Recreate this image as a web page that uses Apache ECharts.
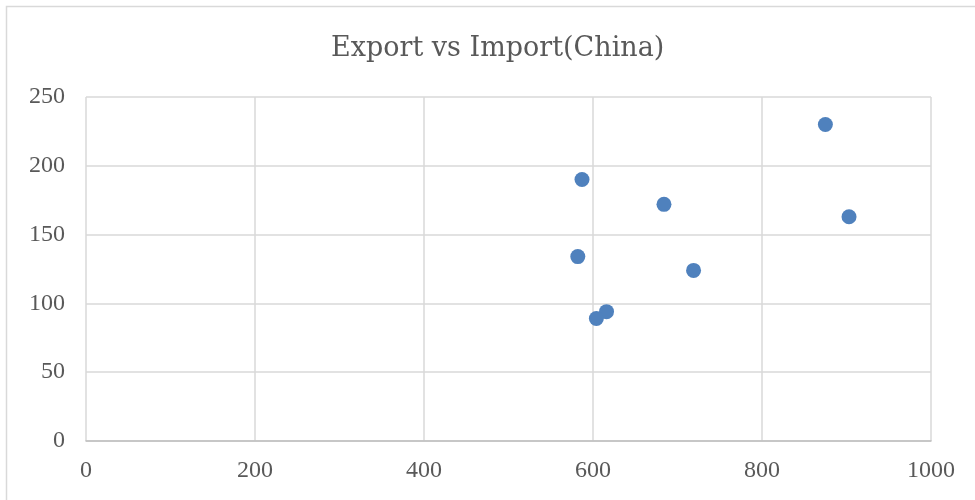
<!DOCTYPE html>
<html><head><meta charset="utf-8">
<script src="https://cdn.jsdelivr.net/npm/echarts@6/dist/echarts.min.js"></script>
<style>html,body{margin:0;padding:0;background:#fff}#c{width:975px;height:500px}</style>
</head><body><div id="c"></div>
<script>
const titleText = "Export vs Import(China)";
const exportValues = [875, 903, 587, 684, 582, 719, 616, 604];
const importValues = [230, 163, 190, 172, 134, 124, 94, 89];
const xTicks = [0, 200, 400, 600, 800, 1000];
const yTicks = [0, 50, 100, 150, 200, 250];

const points = exportValues.map((x, i) => [x, importValues[i]]);
const font = "Liberation Serif";
const chart = echarts.init(document.getElementById('c'), null, {renderer: 'canvas'});
chart.setOption({
  animation: false,
  backgroundColor: '#fff',
  title: {text: titleText, left: 326, top: 30,
    textStyle: {fontFamily: "DejaVu Serif", fontSize: 27, fontWeight: 'normal', color: '#595959'}},
  graphic: [{type: 'rect', shape: {x: 6.5, y: 6.5, width: 1000, height: 600},
    style: {fill: 'none', stroke: '#d9d9d9', lineWidth: 1.5}, silent: true}],
  grid: {left: 86, right: 44, top: 97, bottom: 59, containLabel: false},
  xAxis: {type: 'value', min: xTicks[0], max: xTicks[xTicks.length-1], interval: 200,
    axisLine: {show: true, lineStyle: {color: '#bfbfbf', width: 1.5}},
    axisTick: {show: false},
    splitLine: {show: true, lineStyle: {color: '#d9d9d9', width: 1.5}},
    axisLabel: {fontFamily: font, fontSize: 24, color: '#595959', margin: 18,
      formatter: v => String(v)}},
  yAxis: {type: 'value', min: yTicks[0], max: yTicks[yTicks.length-1], interval: 50,
    axisLine: {show: false}, axisTick: {show: false},
    splitLine: {show: true, lineStyle: {color: '#d9d9d9', width: 1.5}},
    axisLabel: {fontFamily: font, fontSize: 24, color: '#595959', margin: 21,
      formatter: v => String(v)}},
  series: [{type: 'scatter', data: points, symbol: 'circle', symbolSize: 15,
    itemStyle: {color: '#4f81bd', opacity: 1}}]
});
</script></body></html>
